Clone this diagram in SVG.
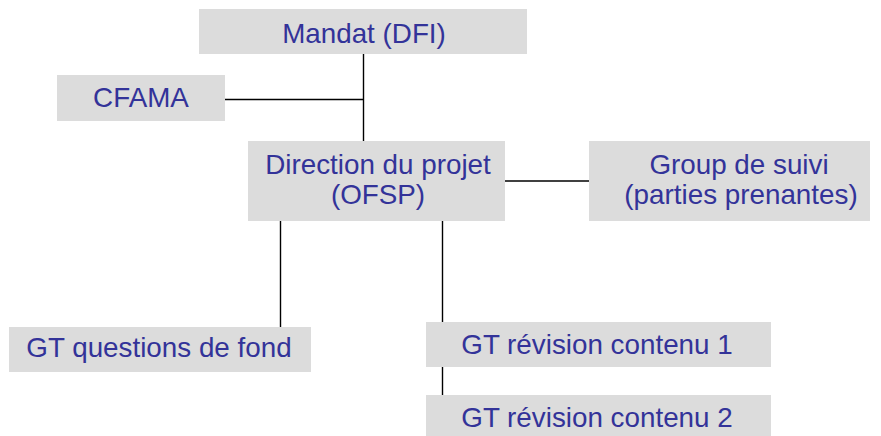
<svg xmlns="http://www.w3.org/2000/svg" width="881" height="436" viewBox="0 0 881 436">
<style>
.box{fill:#dcdcdc}
.lbl{font-family:"Liberation Sans",Arial,sans-serif;font-size:27.8px;fill:#333399;text-anchor:middle}
.conn line{stroke:#000;stroke-width:1.4}
</style>
<rect width="881" height="436" fill="#fff"/>
<g id="connectors" class="conn">
<line x1="363.5" y1="54" x2="363.5" y2="141"/>
<line x1="225" y1="99.5" x2="363.5" y2="99.5"/>
<line x1="505" y1="181" x2="589" y2="181"/>
<line x1="280.5" y1="221" x2="280.5" y2="327"/>
<line x1="442.5" y1="221" x2="442.5" y2="322"/>
<line x1="442.5" y1="367" x2="442.5" y2="395"/>
</g>
<g id="mandat">
<rect class="box" x="199" y="9" width="328" height="45"/>
<text class="lbl" x="364" y="43">Mandat (DFI)</text>
</g>
<g id="cfama">
<rect class="box" x="57" y="75" width="168" height="46"/>
<text class="lbl" x="141" y="107">CFAMA</text>
</g>
<g id="direction">
<rect class="box" x="248" y="141" width="257" height="80"/>
<text class="lbl" x="378" y="174">Direction du projet</text>
<text class="lbl" x="378" y="204">(OFSP)</text>
</g>
<g id="suivi">
<rect class="box" x="589" y="141" width="281" height="80"/>
<text class="lbl" x="739" y="174">Group de suivi</text>
<text class="lbl" x="741" y="204">(parties prenantes)</text>
</g>
<g id="gt-fond">
<rect class="box" x="9" y="327" width="302" height="45"/>
<text class="lbl" x="159" y="357">GT questions de fond</text>
</g>
<g id="gt-rev1">
<rect class="box" x="426" y="322" width="345" height="45"/>
<text class="lbl" x="597" y="354">GT révision contenu 1</text>
</g>
<g id="gt-rev2">
<rect class="box" x="426" y="395" width="345" height="45"/>
<text class="lbl" x="597" y="427">GT révision contenu 2</text>
</g>
</svg>
